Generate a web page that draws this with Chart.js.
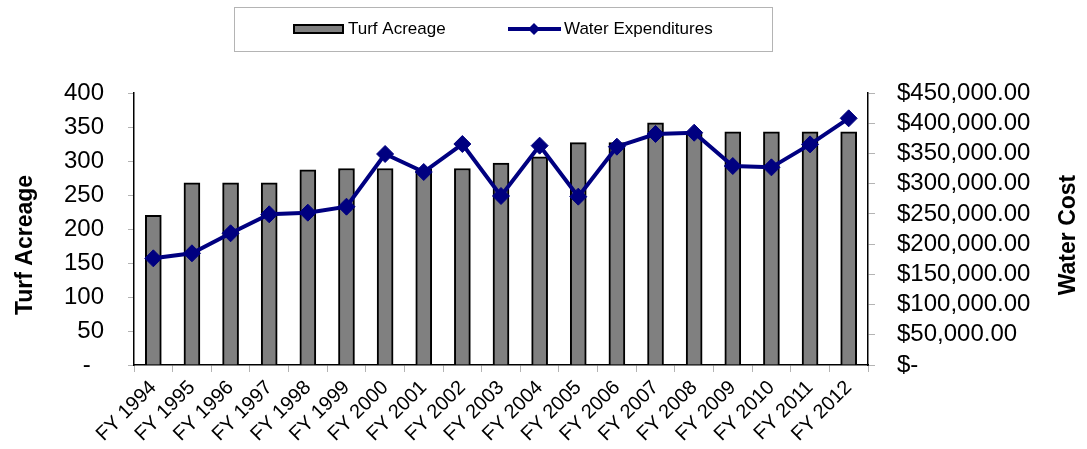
<!DOCTYPE html>
<html>
<head>
<meta charset="utf-8">
<title>Turf Acreage and Water Expenditures</title>
<script src="https://cdn.jsdelivr.net/npm/chart.js@4/dist/chart.umd.min.js"></script>
<style>
  html, body { margin: 0; padding: 0; background: #fff; }
  #wrap { position: relative; width: 1087px; height: 449px; }
</style>
</head>
<body>
<div id="wrap"><canvas id="turf-chart"></canvas></div>
<script>
// Chart data
const categories = ['FY 1994', 'FY 1995', 'FY 1996', 'FY 1997', 'FY 1998', 'FY 1999', 'FY 2000',
  'FY 2001', 'FY 2002', 'FY 2003', 'FY 2004', 'FY 2005', 'FY 2006', 'FY 2007', 'FY 2008',
  'FY 2009', 'FY 2010', 'FY 2011', 'FY 2012'];
const turfAcreage = [220, 268, 268, 268, 287, 289, 289, 289, 289, 297, 306, 327, 327, 356, 343, 343, 343, 343, 343];
const waterExpenditures = [176500, 184800, 217900, 249300, 252000, 261900, 349100, 319300, 365600, 279600,
  362900, 278500, 361200, 382200, 384300, 329200, 327000, 365000, 408100];
const acreageTicks = ['-  ', '50', '100', '150', '200', '250', '300', '350', '400'];
const costTicks = ['$-', '$50,000.00', '$100,000.00', '$150,000.00', '$200,000.00', '$250,000.00',
  '$300,000.00', '$350,000.00', '$400,000.00', '$450,000.00'];

const FONT = "'Liberation Sans', Arial, sans-serif";
Chart.defaults.font.family = FONT;
Chart.defaults.color = '#000';

// Legend box + rotated axis titles drawn on the canvas
const decorPlugin = {
  id: 'decor',
  afterDraw(chart) {
    const ctx = chart.ctx;
    const ds = chart.data.datasets;
    ctx.save();

    // legend frame
    ctx.strokeStyle = '#b4b4b4';
    ctx.lineWidth = 1;
    ctx.strokeRect(234.5, 7.5, 538, 44);

    ctx.font = '17px ' + FONT;
    ctx.textBaseline = 'middle';
    ctx.textAlign = 'left';

    // bar swatch
    ctx.fillStyle = '#808080';
    ctx.fillRect(293, 24, 51, 10);
    ctx.strokeStyle = '#000';
    ctx.lineWidth = 2;
    ctx.strokeRect(294, 25, 49, 8);
    ctx.fillStyle = '#000';
    ctx.fillText(ds[1].label, 348, 29);

    // line swatch
    ctx.strokeStyle = '#000080';
    ctx.lineWidth = 4;
    ctx.beginPath();
    ctx.moveTo(508, 29);
    ctx.lineTo(561, 29);
    ctx.stroke();
    ctx.fillStyle = '#000080';
    ctx.beginPath();
    ctx.moveTo(534, 23);
    ctx.lineTo(540, 29);
    ctx.lineTo(534, 35);
    ctx.lineTo(528, 29);
    ctx.closePath();
    ctx.fill();
    ctx.fillStyle = '#000';
    ctx.fillText(ds[0].label, 564, 29);

    // axis titles
    ctx.font = 'bold 23px ' + FONT;
    ctx.textAlign = 'center';
    ctx.translate(26, 245);
    ctx.rotate(-Math.PI / 2);
    ctx.fillText('Turf Acreage', 0, 0);
    ctx.setTransform(1, 0, 0, 1, 0, 0);
    ctx.translate(1069, 235);
    ctx.rotate(-Math.PI / 2);
    ctx.fillText('Water Cost', 0, 0);

    ctx.restore();
  }
};

new Chart(document.getElementById('turf-chart'), {
  data: {
    labels: categories,
    datasets: [
      {
        type: 'line',
        label: 'Water Expenditures',
        data: waterExpenditures,
        yAxisID: 'y1',
        order: 0,
        borderColor: '#000080',
        backgroundColor: '#000080',
        borderWidth: 4,
        tension: 0,
        pointStyle: 'rectRot',
        pointRadius: 8.5,
        pointBackgroundColor: '#000080',
        pointBorderColor: '#000080',
        pointBorderWidth: 1
      },
      {
        type: 'bar',
        label: 'Turf Acreage',
        data: turfAcreage,
        yAxisID: 'y',
        order: 1,
        backgroundColor: '#808080',
        borderColor: '#000',
        borderWidth: 2,
        barThickness: 16
      }
    ]
  },
  options: {
    responsive: true,
    maintainAspectRatio: false,
    animation: false,
    layout: { padding: { top: 93, left: 0, right: 0, bottom: 0 } },
    plugins: {
      legend: { display: false },
      tooltip: { enabled: false }
    },
    scales: {
      x: {
        grid: { offset: true, drawOnChartArea: false, tickLength: 7, color: '#b4b4b4' },
        border: { color: '#000', width: 1.5 },
        ticks: {
          autoSkip: false,
          minRotation: 45,
          maxRotation: 45,
          padding: 4,
          font: { size: 20 },
          color: '#000'
        },
        afterFit(scale) { scale.height = 84; }
      },
      y: {
        position: 'left',
        min: 0,
        max: 400,
        grid: { drawOnChartArea: false, tickLength: 6, color: '#b4b4b4' },
        border: { color: '#000', width: 1.5 },
        ticks: {
          autoSkip: false,
          stepSize: 50,
          padding: 24,
          font: { size: 24 },
          color: '#000',
          callback: (v, i) => acreageTicks[i]
        },
        afterFit(scale) { scale.width = 134; }
      },
      y1: {
        position: 'right',
        min: 0,
        max: 450000,
        grid: { drawOnChartArea: false, tickLength: 7, color: '#b4b4b4' },
        border: { color: '#000', width: 1.5 },
        ticks: {
          autoSkip: false,
          stepSize: 50000,
          padding: 22,
          font: { size: 24 },
          color: '#000',
          callback: (v, i) => costTicks[i]
        },
        afterFit(scale) { scale.width = 219; }
      }
    }
  },
  plugins: [decorPlugin]
});
</script>
</body>
</html>
